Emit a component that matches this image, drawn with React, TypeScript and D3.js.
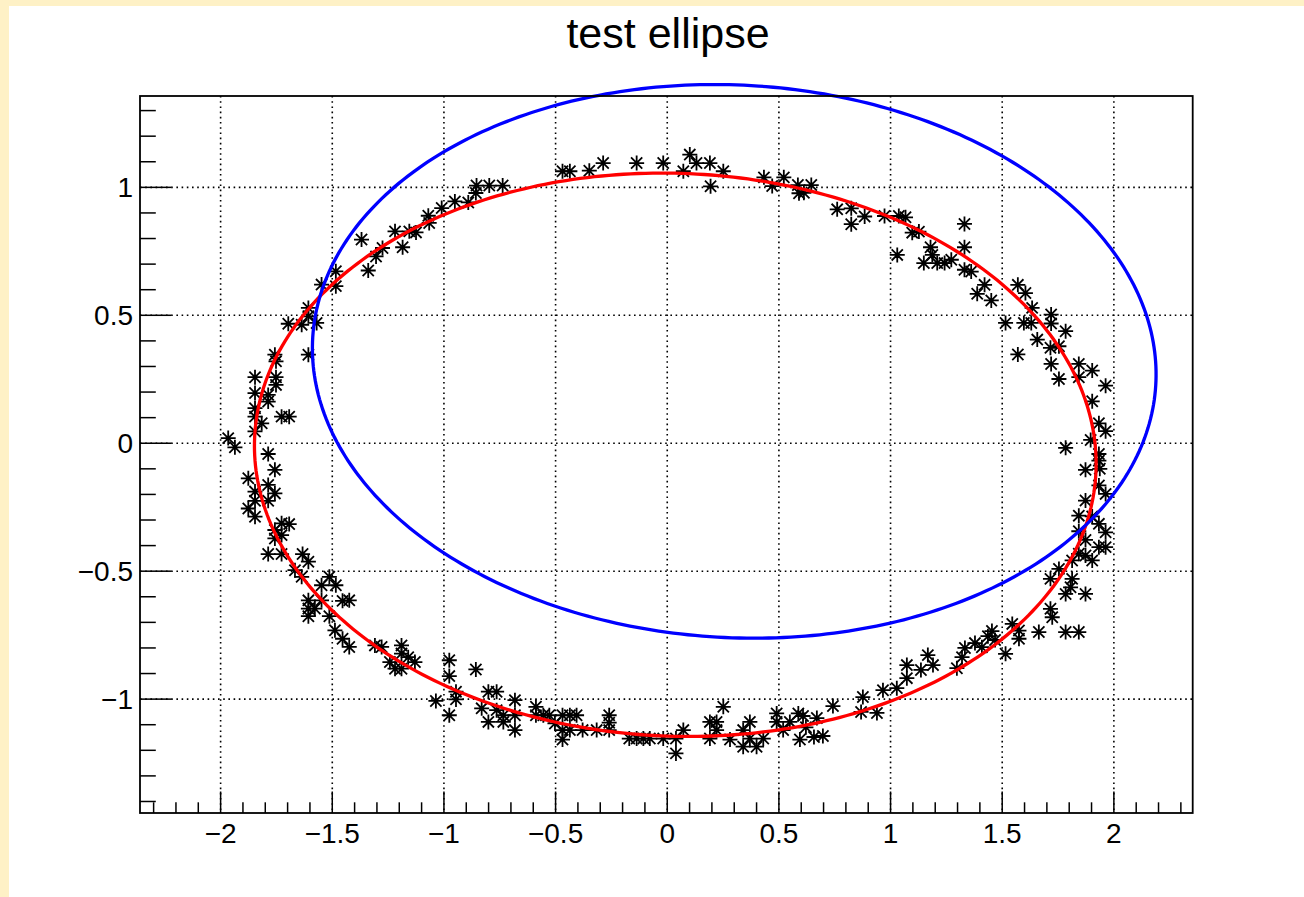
import React, { useRef, useEffect } from 'react';
import * as d3 from 'd3';

const WIDTH = 1304;
const HEIGHT = 897;

const chartTitle = 'test ellipse';

// axis ranges
const xRange = [-2.361, 2.353];
const yRange = [-1.445, 1.357];

// measured points, grouped by arc
const upperArc: [number, number][] = [
  [-1.369, 0.796], [-1.304, 0.73], [-1.275, 0.763], [-1.219, 0.828], [-1.185, 0.766],
  [-1.155, 0.828], [-1.125, 0.824], [-1.066, 0.861], [-1.07, 0.889], [-1.01, 0.919],
  [-0.951, 0.945], [-0.891, 0.941], [-0.857, 0.978], [-0.854, 1.007], [-0.797, 1.007],
  [-0.737, 1.007], [-0.469, 1.063], [-0.436, 1.063], [-0.349, 1.065], [-0.287, 1.095],
  [-0.137, 1.095], [-0.018, 1.095], [0.072, 1.063], [0.101, 1.128], [0.131, 1.095],
  [0.191, 1.095], [0.251, 1.063], [0.194, 1.004],
  [0.433, 1.039], [0.47, 1.005], [0.522, 1.039], [0.585, 1.009], [0.59, 0.977],
  [0.612, 0.979], [0.645, 1.009], [0.761, 0.914], [0.824, 0.918], [0.824, 0.856],
  [0.884, 0.886], [0.973, 0.888], [1.037, 0.888], [1.067, 0.883], [1.097, 0.823],
  [1.127, 0.827], [1.03, 0.736], [1.179, 0.766], [1.149, 0.704], [1.187, 0.736],
  [1.209, 0.704], [1.242, 0.704], [1.272, 0.717], [1.331, 0.857], [1.331, 0.766],
  [1.331, 0.678], [1.361, 0.671], [1.421, 0.619], [1.388, 0.584], [1.451, 0.558],
  [1.57, 0.619], [1.604, 0.587], [1.634, 0.529], [1.597, 0.47], [1.63, 0.47],
  [1.515, 0.47], [1.719, 0.503], [1.719, 0.468], [1.784, 0.438], [1.657, 0.405],
  [1.716, 0.373], [1.754, 0.379], [1.57, 0.347],
];

const rightArc: [number, number][] = [
  [1.719, 0.31], [1.843, 0.31], [1.754, 0.251], [1.843, 0.258], [1.903, 0.284],
  [1.963, 0.225], [1.903, 0.164], [1.933, 0.078], [1.963, 0.047], [1.896, 0.013],
  [1.784, -0.018], [1.933, -0.042], [1.933, -0.068], [1.873, -0.104], [1.937, -0.1],
  [1.933, -0.165], [1.963, -0.198], [1.873, -0.224], [1.843, -0.283], [1.903, -0.286],
  [1.933, -0.315], [1.963, -0.348], [1.843, -0.344], [1.873, -0.378], [1.933, -0.406],
  [1.963, -0.406], [1.903, -0.458], [1.873, -0.439], [1.843, -0.432], [1.813, -0.458],
  [1.754, -0.491], [1.716, -0.53], [1.813, -0.53], [1.784, -0.589], [1.806, -0.563],
  [1.873, -0.589], [1.716, -0.647], [1.724, -0.68], [1.545, -0.706], [1.575, -0.732],
  [1.575, -0.764], [1.664, -0.738], [1.784, -0.738], [1.843, -0.738], [1.515, -0.823],
];

const lowerArc: [number, number][] = [
  [0.608, -1.066], [0.621, -1.11], [0.67, -1.074], [0.657, -1.148], [0.697, -1.144],
  [0.742, -1.027], [0.868, -1.05], [0.939, -1.054], [0.876, -0.992], [0.966, -0.965],
  [1.028, -0.957], [1.073, -0.918], [1.073, -0.867], [1.136, -0.886], [1.167, -0.828],
  [1.19, -0.867], [1.297, -0.879], [1.32, -0.836], [1.333, -0.8], [1.378, -0.781],
  [1.409, -0.797], [1.436, -0.754], [1.454, -0.734], [1.468, -0.769],
  [-0.976, -0.848], [-0.976, -0.91], [-0.857, -0.884], [-1.036, -1.007], [-0.946, -1.001],
  [-0.976, -1.063], [-0.946, -0.971], [-0.801, -0.971], [-0.764, -0.971], [-0.831, -1.036],
  [-0.801, -1.089], [-0.764, -1.043], [-0.734, -1.089], [-0.734, -1.063], [-0.682, -1.004],
  [-0.682, -1.063], [-0.682, -1.121], [-0.588, -1.03], [-0.588, -1.063], [-0.555, -1.063],
  [-0.528, -1.063], [-0.503, -1.095], [-0.469, -1.063], [-0.436, -1.063], [-0.406, -1.063],
  [-0.469, -1.121], [-0.469, -1.158], [-0.436, -1.121], [-0.379, -1.121], [-0.316, -1.121],
  [-0.26, -1.063], [-0.26, -1.092], [-0.26, -1.121], [-0.17, -1.154], [-0.137, -1.154],
  [-0.107, -1.154], [-0.078, -1.154], [-0.018, -1.154], [0.039, -1.154], [0.039, -1.212],
  [0.072, -1.121], [0.191, -1.089], [0.221, -1.089], [0.191, -1.154], [0.221, -1.121],
  [0.251, -1.03], [0.281, -1.158], [0.34, -1.121], [0.34, -1.186], [0.37, -1.089],
  [0.37, -1.154], [0.4, -1.186], [0.43, -1.154], [0.49, -1.056], [0.49, -1.089],
  [0.519, -1.121], [0.549, -1.089], [0.587, -1.056], [0.594, -1.158],
];

const leftArc: [number, number][] = [
  [-1.339, 0.675], [-1.484, 0.672], [-1.548, 0.62], [-1.484, 0.614], [-1.607, 0.529],
  [-1.607, 0.496], [-1.697, 0.467], [-1.637, 0.463], [-1.57, 0.47], [-1.607, 0.346],
  [-1.757, 0.346], [-1.752, 0.32], [-1.846, 0.258], [-1.752, 0.258], [-1.752, 0.228],
  [-1.846, 0.196], [-1.787, 0.189], [-1.787, 0.163], [-1.846, 0.137], [-1.846, 0.104],
  [-1.816, 0.078], [-1.727, 0.104], [-1.693, 0.104], [-1.846, 0.046], [-1.966, 0.02],
  [-1.936, -0.016], [-1.787, -0.042], [-1.757, -0.104], [-1.876, -0.137], [-1.787, -0.163],
  [-1.846, -0.189], [-1.757, -0.196], [-1.787, -0.225], [-1.846, -0.225], [-1.876, -0.255],
  [-1.846, -0.287], [-1.727, -0.313], [-1.693, -0.316], [-1.757, -0.339], [-1.757, -0.372],
  [-1.727, -0.359], [-1.787, -0.433], [-1.727, -0.433], [-1.633, -0.433], [-1.607, -0.463],
  [-1.667, -0.496], [-1.637, -0.522], [-1.513, -0.522], [-1.548, -0.555], [-1.484, -0.555],
  [-1.607, -0.614], [-1.607, -0.646], [-1.578, -0.646], [-1.607, -0.676], [-1.548, -0.614],
  [-1.513, -0.676], [-1.454, -0.616], [-1.424, -0.614], [-1.488, -0.731], [-1.454, -0.764],
  [-1.424, -0.796], [-1.309, -0.79], [-1.279, -0.796], [-1.19, -0.79], [-1.19, -0.822],
  [-1.242, -0.855], [-1.16, -0.836], [-1.13, -0.855], [-1.219, -0.881], [-1.19, -0.881],
];

// ellipses: fitted (red) and test (blue)
const ellipseCx = [0.036, 0.3];
const ellipseCy = [-0.045, 0.32];
const ellipseA = [1.885, 1.89];
const ellipseB = [1.1, 1.08];
const ellipseTilt = [-0.028, -0.04];
const ellipseColors = ['#ff0000', '#0000ff'];

const FONT = "'Liberation Sans', Arial, Helvetica, sans-serif";

export default function App() {
  const svgRef = useRef<SVGSVGElement>(null);

  useEffect(() => {
    if (!svgRef.current) return;
    const svg = d3.select(svgRef.current);
    svg.selectAll('*').remove();

    const frame = { left: 140, right: 1192.7, top: 96, bottom: 813 };

    // canvas + pad
    svg.append('rect').attr('width', WIDTH).attr('height', HEIGHT).attr('fill', '#fef1c6');
    svg.append('rect').attr('x', 9).attr('y', 6).attr('width', WIDTH - 9).attr('height', HEIGHT - 6).attr('fill', '#ffffff');

    const x = d3.scaleLinear().domain(xRange).range([frame.left, frame.right]);
    const y = d3.scaleLinear().domain(yRange).range([frame.bottom, frame.top]);

    const xMajor = x.ticks(10);
    const yMajor = y.ticks(6);
    const xMinor = x.ticks(50);
    const yMinor = y.ticks(30);

    // dotted grid
    const grid = svg.append('g').attr('stroke', '#000').attr('stroke-width', 1.6).attr('stroke-dasharray', '1.6,3.6');
    xMajor.forEach((v) => {
      grid.append('line').attr('x1', x(v)).attr('x2', x(v)).attr('y1', frame.top).attr('y2', frame.bottom);
    });
    yMajor.forEach((v) => {
      grid.append('line').attr('x1', frame.left).attr('x2', frame.right).attr('y1', y(v)).attr('y2', y(v));
    });

    // markers (asterisk)
    const h = 7.5;
    const d = 5.6;
    const star = `M${-h},0L${h},0M0,${-h}L0,${h}M${-d},${-d}L${d},${d}M${-d},${d}L${d},${-d}`;
    const allPoints = [...upperArc, ...rightArc, ...lowerArc, ...leftArc];
    svg.append('g')
      .selectAll('path')
      .data(allPoints)
      .enter()
      .append('path')
      .attr('d', star)
      .attr('transform', (p) => `translate(${x(p[0])},${y(p[1])})`)
      .attr('fill', 'none')
      .attr('stroke', '#000')
      .attr('stroke-width', 1.8);

    // ellipses
    const angles = d3.range(0, 360).map((deg) => (deg * Math.PI) / 180);
    ellipseCx.forEach((cx, i) => {
      const cy = ellipseCy[i];
      const a = ellipseA[i];
      const b = ellipseB[i];
      const th = ellipseTilt[i];
      const line = d3.line<number>()
        .x((t) => x(cx + a * Math.cos(th) * Math.cos(t) - b * Math.sin(th) * Math.sin(t)))
        .y((t) => y(cy + a * Math.sin(th) * Math.cos(t) + b * Math.cos(th) * Math.sin(t)))
        .curve(d3.curveLinearClosed);
      svg.append('path')
        .attr('d', line(angles))
        .attr('fill', 'none')
        .attr('stroke', ellipseColors[i])
        .attr('stroke-width', 3.3);
    });

    // frame
    svg.append('rect')
      .attr('x', frame.left)
      .attr('y', frame.top)
      .attr('width', frame.right - frame.left)
      .attr('height', frame.bottom - frame.top)
      .attr('fill', 'none')
      .attr('stroke', '#000')
      .attr('stroke-width', 1.8);

    // ticks point inward, ROOT style
    const xAxis = svg.append('g').attr('stroke', '#000').attr('stroke-width', 1.5);
    xMinor.forEach((v) => {
      const major = xMajor.some((m) => Math.abs(m - v) < 1e-9);
      xAxis.append('line')
        .attr('x1', x(v)).attr('x2', x(v))
        .attr('y1', frame.bottom).attr('y2', frame.bottom - (major ? 21.5 : 10.7));
    });
    const yAxis = svg.append('g').attr('stroke', '#000').attr('stroke-width', 1.5);
    yMinor.forEach((v) => {
      const major = yMajor.some((m) => Math.abs(m - v) < 1e-9);
      yAxis.append('line')
        .attr('y1', y(v)).attr('y2', y(v))
        .attr('x1', frame.left).attr('x2', frame.left + (major ? 31.5 : 15.8));
    });

    const fmt = d3.format('~g');
    svg.append('g')
      .selectAll('text')
      .data(xMajor)
      .enter()
      .append('text')
      .attr('x', (v) => x(v))
      .attr('y', frame.bottom + 30)
      .attr('text-anchor', 'middle')
      .attr('font-family', FONT)
      .attr('font-size', 28)
      .attr('fill', '#000')
      .text((v) => fmt(v));

    svg.append('g')
      .selectAll('text')
      .data(yMajor)
      .enter()
      .append('text')
      .attr('x', frame.left - 7)
      .attr('y', (v) => y(v) + 10)
      .attr('text-anchor', 'end')
      .attr('font-family', FONT)
      .attr('font-size', 28)
      .attr('fill', '#000')
      .text((v) => fmt(v));

    svg.append('text')
      .attr('x', 668)
      .attr('y', 48)
      .attr('text-anchor', 'middle')
      .attr('font-family', FONT)
      .attr('font-size', 43)
      .attr('fill', '#000')
      .text(chartTitle);
  }, []);

  return (
    <div style={{ position: 'absolute', left: 0, top: 0 }}>
      <svg ref={svgRef} width={WIDTH} height={HEIGHT} style={{ display: 'block' }} />
    </div>
  );
}
